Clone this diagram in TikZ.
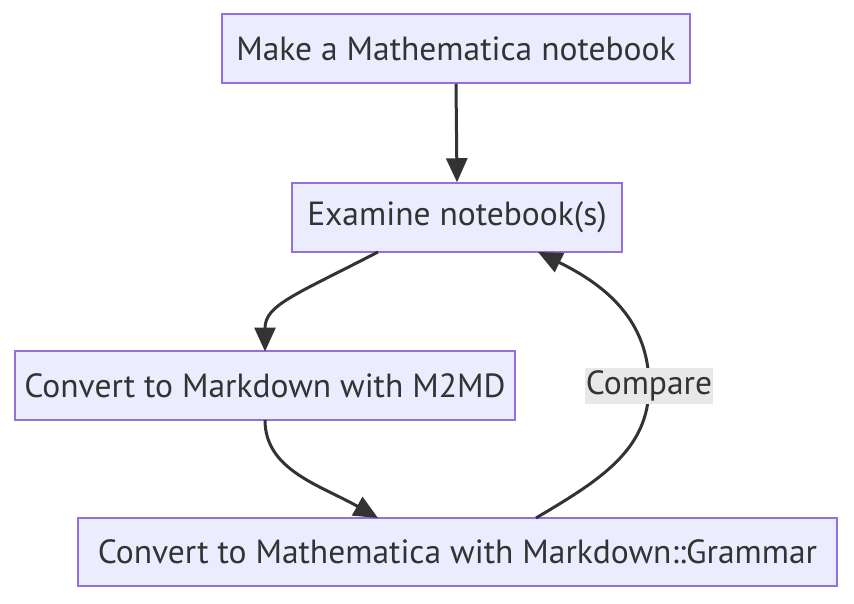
\documentclass[tikz,border=0pt]{standalone}
\usepackage{fontspec}
\setmainfont{PT Sans}
\usetikzlibrary{arrows.meta}
\definecolor{boxfill}{HTML}{ECECFF}
\definecolor{boxline}{HTML}{9370DB}
\definecolor{ink}{HTML}{333333}
\definecolor{lblbg}{HTML}{E8E8E8}
\begin{document}
\begin{tikzpicture}[x=1pt,y=-1pt,
  flowbox/.style={draw=boxline,fill=boxfill,line width=1.5pt,inner sep=0pt,
    text=ink,font=\fontsize{33.5}{38}\selectfont},
  flowedge/.style={draw=ink,line width=3pt,-{Triangle[length=24pt,width=21pt]}},
  edgelbl/.style={fill=lblbg,text=ink,inner sep=0pt,minimum width=128pt,minimum height=36pt,font=\fontsize{33.5}{38}\selectfont}]
\useasboundingbox (0,0) rectangle (854,604);
\node[flowbox,minimum width=468pt,minimum height=69pt] (A) at (456,48.5) {Make a Mathematica notebook};
\node[flowbox,minimum width=330pt,minimum height=69pt] (B) at (457,217.5) {Examine notebook(s)};
\node[flowbox,minimum width=500pt,minimum height=69pt] (C) at (265,385.5) {Convert to Markdown with M2MD};
\node[flowbox,minimum width=759pt,minimum height=68pt] (D) at (457.5,552) {Convert to Mathematica with Markdown::Grammar};
\coordinate (b1) at (378,252);
\coordinate (c1) at (265,351.5);
\coordinate (c2) at (265,420);
\coordinate (d1) at (378,518);
\coordinate (d2) at (536,518);
\coordinate (b2) at (538,252);
\coordinate (m) at (649,386);
\draw[flowedge] (A.south) -- (B.north);
\draw[flowedge] (b1) .. controls (295,295) and (265,305) .. (c1);
\draw[flowedge] (c2) .. controls (265,470) and (320,485) .. (d1);
\draw[flowedge] (d2) .. controls (600,480) and (649,450) .. (m) .. controls (649,320) and (605,285) .. (b2);
\node[edgelbl] (L) at (m) {Compare};
\end{tikzpicture}
\end{document}
